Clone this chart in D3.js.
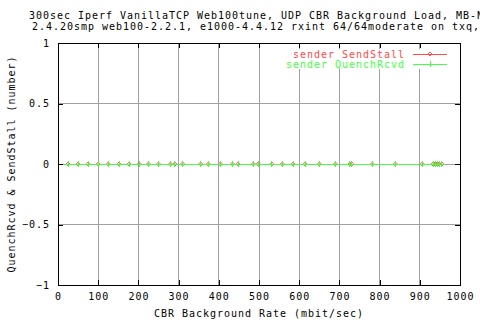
<!DOCTYPE html>
<html>
<head>
<meta charset="utf-8">
<script src="https://cdn.jsdelivr.net/npm/d3@7"></script>
<style>
  body { margin: 0; background: #fff; }
  text { font-family: "DejaVu Sans Mono", monospace; font-size: 10px; letter-spacing: 0.98px; }
</style>
</head>
<body>
<div id="chart"></div>
<script>
// data
var rates = [25, 50, 75, 100, 125, 152, 177, 202, 225, 250, 280, 291, 310, 355, 374, 404,
  434, 448, 486, 498, 532, 558, 585, 615, 650, 690, 726, 731, 782, 839, 906, 933, 938, 943, 948, 955];
var sendStall = rates.map(function () { return 0; });
var quenchRcvd = rates.map(function () { return 0; });
var xTicks = [0, 100, 200, 300, 400, 500, 600, 700, 800, 900, 1000];
var yTicks = [-1, -0.5, 0, 0.5, 1];
var titleLines = [
  "300sec Iperf VanillaTCP Web100tune, UDP CBR Background Load, MB-N",
  "2.4.20smp web100-2.2.1, e1000-4.4.12 rxint 64/64moderate on txq,"
];

var width = 480, height = 320;
var margin = { top: 43, right: 20, bottom: 35, left: 58 };
var red = "#ff4a4a", green = "#44ff44", grid = "#a0a0a0";

var x = d3.scaleLinear().domain([0, 1000]).range([margin.left, width - margin.right]);
var y = d3.scaleLinear().domain([-1, 1]).range([height - margin.bottom, margin.top]);

var svg = d3.select("#chart").append("svg").attr("width", width).attr("height", height);

// title (runs off the right edge, as in the original)
svg.selectAll(".title").data(titleLines).join("text")
  .attr("class", "title")
  .attr("x", function (d, i) { return i == 0 ? 29 : 32; })
  .attr("y", function (d, i) { return 19 + i * 11; })
  .text(function (d) { return d; });

// grid
svg.append("g").selectAll("line").data(xTicks.slice(1, -1)).join("line")
  .attr("x1", function (d) { return x(d); }).attr("x2", function (d) { return x(d); })
  .attr("y1", y(1)).attr("y2", y(-1))
  .attr("stroke", grid).attr("shape-rendering", "crispEdges");
svg.append("g").selectAll("line").data(yTicks.slice(1, -1)).join("line")
  .attr("x1", x(0)).attr("x2", x(1000))
  .attr("y1", function (d) { return y(d); }).attr("y2", function (d) { return y(d); })
  .attr("stroke", grid).attr("shape-rendering", "crispEdges");

// axes, ticks pointing inward on every side
function styleAxis(g) {
  g.select(".domain").remove();
  g.selectAll("line").attr("stroke", "#000").attr("shape-rendering", "crispEdges");
  g.selectAll("text").attr("fill", "#000").style("font-family", '"DejaVu Sans Mono", monospace').style("font-size", "10px");
}
svg.append("g").attr("transform", "translate(0," + y(-1) + ")")
  .call(d3.axisBottom(x).tickValues(xTicks).tickFormat(d3.format("d")).tickSizeInner(-5).tickSizeOuter(0).tickPadding(8))
  .call(styleAxis);
svg.append("g").attr("transform", "translate(0," + y(1) + ")")
  .call(d3.axisTop(x).tickValues(xTicks).tickFormat("").tickSizeInner(-5).tickSizeOuter(0))
  .call(styleAxis);
svg.append("g").attr("transform", "translate(" + x(0) + ",0)")
  .call(d3.axisLeft(y).tickValues(yTicks).tickFormat(function (d) { return String(d).replace("-", "\u2212"); }).tickSizeInner(-5).tickSizeOuter(0).tickPadding(8))
  .call(styleAxis);
svg.append("g").attr("transform", "translate(" + x(1000) + ",0)")
  .call(d3.axisRight(y).tickValues(yTicks).tickFormat("").tickSizeInner(-5).tickSizeOuter(0))
  .call(styleAxis);

// legend box (hides grid under it)
svg.append("rect").attr("x", 284).attr("y", 49).attr("width", 170).attr("height", 20).attr("fill", "#fff");

// border
svg.append("rect").attr("x", x(0)).attr("y", y(1))
  .attr("width", x(1000) - x(0)).attr("height", y(-1) - y(1))
  .attr("fill", "none").attr("stroke", "#000").attr("shape-rendering", "crispEdges");

// series
var line = d3.line().x(function (d) { return x(d[0]); }).y(function (d) { return y(d[1]); });
var stallPts = d3.zip(rates, sendStall);
var quenchPts = d3.zip(rates, quenchRcvd);

function diamond(g, px, py, c) {
  g.append("path").attr("d", "M" + px + "," + (py - 2) + "L" + (px + 2) + "," + py + "L" + px + "," + (py + 2) + "L" + (px - 2) + "," + py + "Z")
    .attr("fill", "none").attr("stroke", c).attr("stroke-width", 0.9);
}
function plus(g, px, py, c) {
  g.append("path").attr("d", "M" + (px - 3) + "," + py + "H" + (px + 3) + "M" + px + "," + (py - 3) + "V" + (py + 3))
    .attr("stroke", c).attr("shape-rendering", "crispEdges");
}

var s1 = svg.append("g");
s1.append("path").datum(stallPts).attr("d", line).attr("fill", "none").attr("stroke", red).attr("shape-rendering", "crispEdges");
stallPts.forEach(function (d) { diamond(s1, x(d[0]), y(d[1]), red); });

var s2 = svg.append("g");
s2.append("path").datum(quenchPts).attr("d", line).attr("fill", "none").attr("stroke", green).attr("shape-rendering", "crispEdges");
quenchPts.forEach(function (d) { plus(s2, x(d[0]), y(d[1]), green); });

// legend
var legend = [["sender SendStall", red, diamond], ["sender QuenchRcvd", green, plus]];
legend.forEach(function (l, i) {
  var ly = 54 + i * 10;
  svg.append("text").attr("x", 405).attr("y", ly + 3.6).attr("text-anchor", "end").attr("fill", l[1]).text(l[0]);
  svg.append("line").attr("x1", 413).attr("x2", 447).attr("y1", ly).attr("y2", ly).attr("stroke", l[1]).attr("shape-rendering", "crispEdges");
  l[2](svg, 430, ly, l[1]);
});

// axis labels
svg.append("text").attr("x", 259).attr("y", 317).attr("text-anchor", "middle").text("CBR Background Rate (mbit/sec)");
svg.append("text").attr("transform", "translate(15,164) rotate(-90)").attr("text-anchor", "middle")
  .text("QuenchRcvd & SendStall (number)");
</script>
</body>
</html>
